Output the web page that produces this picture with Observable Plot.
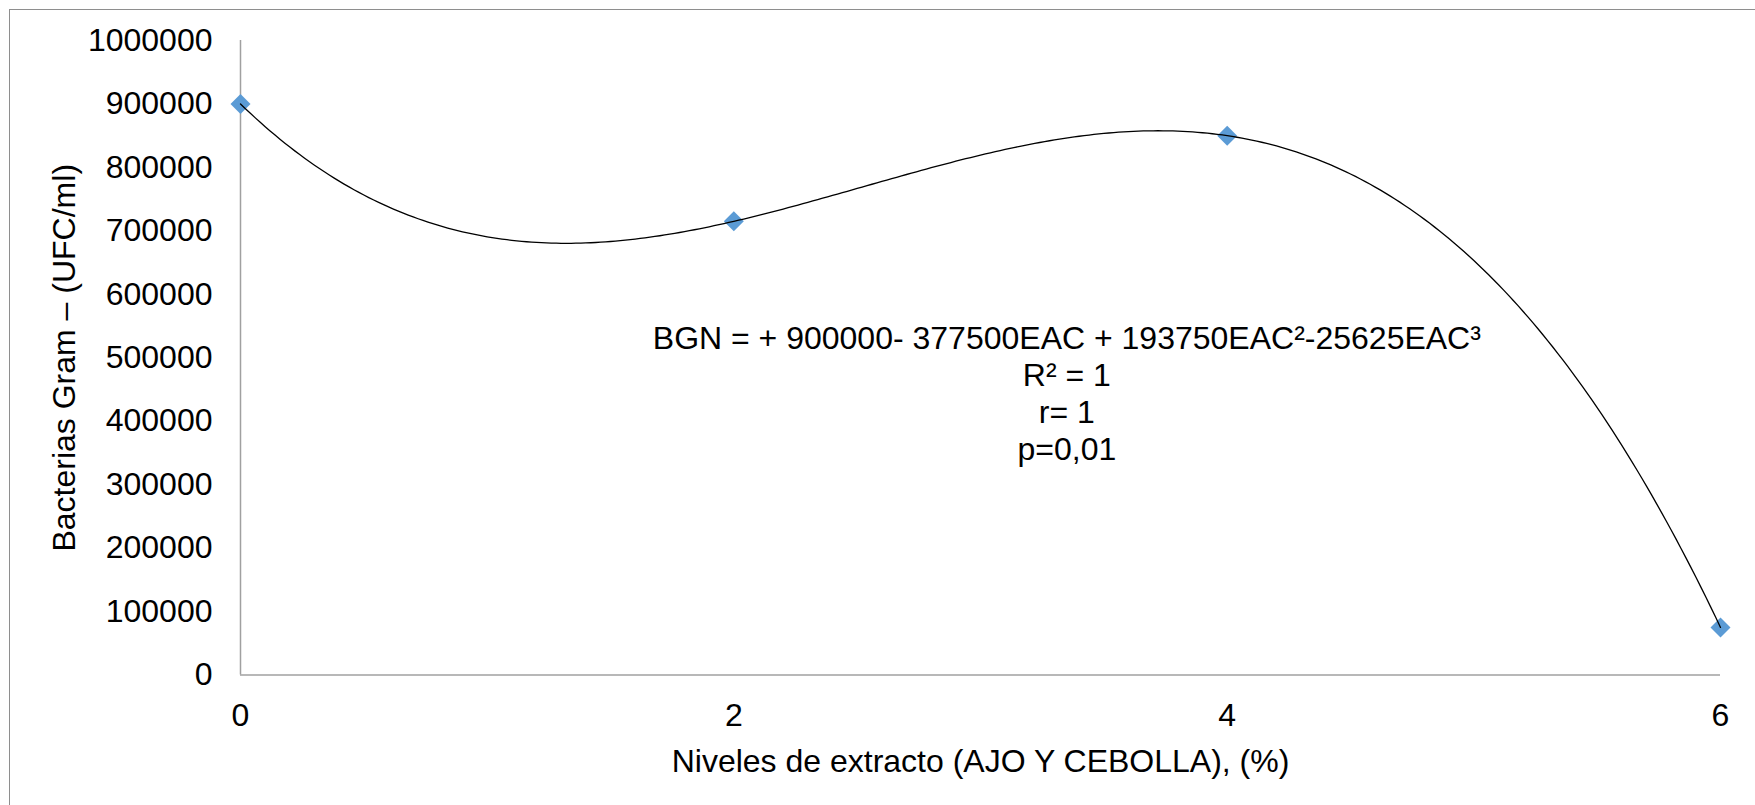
<!DOCTYPE html>
<html>
<head>
<meta charset="utf-8">
<script src="https://cdn.jsdelivr.net/npm/d3@7"></script>
<script src="https://cdn.jsdelivr.net/npm/@observablehq/plot@0.6"></script>
<style>
  html, body { margin: 0; padding: 0; background: white; }
  #wrap { position: relative; width: 1755px; height: 805px; overflow: hidden; }
  #wrap svg { position: absolute; left: 0; top: 0; }
  #border { position: absolute; left: 9px; top: 9px; width: 1800px; height: 900px; z-index: 2;
            border-left: 1.5px solid #8e8e8e; border-top: 1.5px solid #8e8e8e; pointer-events: none; }
</style>
</head>
<body>
<div id="wrap"><div id="border"></div></div>
<script>
// ---- data ----
const niveles = [0, 2, 4, 6];                         // % extracto (AJO Y CEBOLLA)
const bacterias = [900000, 715000, 850000, 75000];     // UFC/ml
const xTicks = [0, 2, 4, 6];
const yTicks = [0, 100000, 200000, 300000, 400000, 500000, 600000, 700000, 800000, 900000, 1000000];
const ecuacion = [
  "BGN = + 900000- 377500EAC + 193750EAC\u00b2-25625EAC\u00b3",
  "R\u00b2 = 1",
  "r= 1",
  "p=0,01"
];
const xLabel = "Niveles de extracto (AJO Y CEBOLLA), (%)";
const yLabel = "Bacterias Gram \u2013 (UFC/ml)";

const points = niveles.map((x, i) => ({x, y: bacterias[i]}));

// Order-3 polynomial trendline fitted to the points (exact for 4 points, as Excel's R² = 1)
function polyFit(xs, ys) {
  return x => xs.reduce((s, xi, i) => {
    let t = ys[i];
    xs.forEach((xj, j) => { if (j !== i) t *= (x - xj) / (xi - xj); });
    return s + t;
  }, 0);
}
const trendFn = polyFit(niveles, bacterias);
const trend = d3.range(0, 6.0001, 0.02).map(x => ({x, y: trendFn(x)}));

const chart = Plot.plot({
  width: 1755,
  height: 805,
  marginLeft: 240,
  marginRight: 35,
  marginTop: 40,
  marginBottom: 130.5,
  style: {fontFamily: "'Liberation Sans', Arial, sans-serif", fontSize: "32px", color: "black", background: "transparent", overflow: "visible"},
  x: {domain: [0, 6]},
  y: {domain: [0, 1000000]},
  marks: [
    Plot.ruleY([0], {stroke: "#a0a0a0", strokeWidth: 1.5}),
    Plot.ruleX([0], {stroke: "#a0a0a0", strokeWidth: 1.5}),
    Plot.axisX({ticks: xTicks, tickSize: 0, tickPadding: 28, tickFormat: d => String(d), label: null, fontSize: 32}),
    Plot.axisY({ticks: yTicks, tickSize: 0, tickPadding: 28, tickFormat: d => String(d), label: null, fontSize: 32}),
    Plot.text([xLabel], {frameAnchor: "bottom", dy: 86.5, lineAnchor: "middle", textAnchor: "middle", fontSize: 32, fill: "black"}),
    Plot.text([yLabel], {frameAnchor: "left", dx: -176, rotate: -90, textAnchor: "middle", lineAnchor: "middle", fontSize: 32, fill: "black"}),
    Plot.dot(points, {x: "x", y: "y", symbol: "diamond2", r: 9, fill: "#5B9BD5", stroke: "none"}),
    Plot.line(trend, {x: "x", y: "y", stroke: "black", strokeWidth: 1.3}),
    Plot.text([ecuacion.join("\n")], {x: 3.35, y: 445000, lineHeight: 1.15, textAnchor: "middle", fontSize: 32, fill: "black"})
  ]
});
document.getElementById("wrap").prepend(chart);
</script>
</body>
</html>
